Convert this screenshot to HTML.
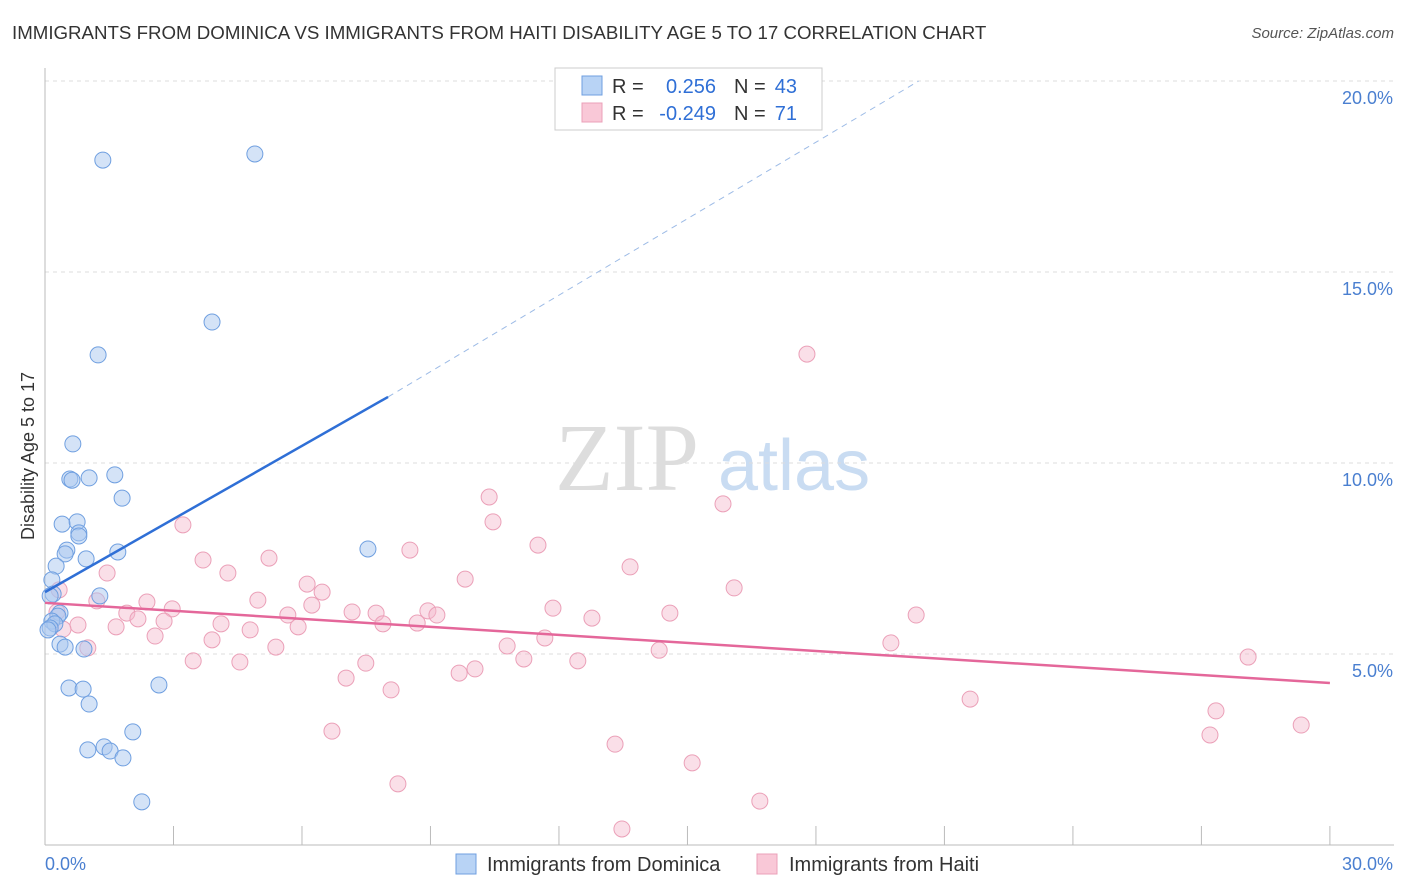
<!DOCTYPE html>
<html><head><meta charset="utf-8">
<style>
body{margin:0;background:#fff;font-family:"Liberation Sans",sans-serif;}
#wrap{position:relative;width:1406px;height:892px;overflow:hidden;}
.t{position:absolute;white-space:nowrap;}
</style></head>
<body>
<div id="wrap">
<div class="t" style="left:12px;top:22px;font-size:18.7px;color:#333;">IMMIGRANTS FROM DOMINICA VS IMMIGRANTS FROM HAITI DISABILITY AGE 5 TO 17 CORRELATION CHART</div>
<div class="t" style="right:12px;top:25px;font-size:15px;color:#555;font-style:italic;">Source: ZipAtlas.com</div>
<svg id="svg" width="1406" height="892" style="position:absolute;left:0;top:0"></svg>
</div>
<script>
const yTicks=[5,10,15,20];
const yTickLabels=["5.0%","10.0%","15.0%","20.0%"];
const xTickLabels=["0.0%","30.0%"];
const domX=[1.35,4.90,3.90,1.24,0.65,0.58,0.63,1.03,1.63,1.80,0.40,0.75,0.79,0.79,0.51,0.47,1.70,0.96,0.26,0.16,0.19,1.28,0.35,0.30,0.16,0.23,0.12,0.35,0.47,0.91,0.56,0.89,1.03,2.66,2.05,1.00,1.38,1.52,1.82,2.26,7.54,0.12,0.07];
const domY=[17.93,18.09,13.69,12.83,10.50,9.58,9.55,9.61,9.69,9.08,8.40,8.46,8.17,8.09,7.72,7.62,7.67,7.49,7.30,6.94,6.57,6.52,6.07,5.99,5.86,5.79,5.68,5.26,5.18,5.13,4.11,4.08,3.69,4.19,2.96,2.49,2.57,2.46,2.28,1.13,7.75,6.52,5.63];
const haiX=[17.79,3.22,10.37,10.46,15.83,11.51,8.52,5.23,3.69,1.45,4.27,9.81,13.66,16.09,6.12,6.47,0.33,1.21,2.38,2.97,4.97,6.23,7.17,7.73,8.94,9.15,11.86,12.77,14.59,20.34,1.91,2.17,2.78,5.67,5.91,7.89,8.69,4.11,1.66,0.77,4.79,2.57,0.42,1.00,5.39,10.79,11.67,19.75,14.34,3.90,3.46,4.55,7.49,11.18,12.44,28.09,10.04,9.67,7.03,8.08,21.60,27.34,29.33,27.20,6.70,13.31,15.11,8.24,16.69,13.47,0.28];
const haiY=[12.85,8.38,9.11,8.46,8.93,7.85,7.72,7.51,7.46,7.12,7.12,6.96,7.28,6.73,6.83,6.62,6.68,6.39,6.36,6.18,6.41,6.28,6.10,6.07,6.13,6.02,6.20,5.94,6.07,6.02,6.07,5.92,5.86,6.02,5.71,5.79,5.81,5.79,5.71,5.76,5.63,5.47,5.65,5.16,5.18,5.21,5.42,5.29,5.10,5.37,4.82,4.79,4.76,4.87,4.82,4.92,4.61,4.50,4.37,4.06,3.82,3.51,3.14,2.88,2.98,2.64,2.15,1.60,1.15,0.42,6.10];
const domLine=[[0,6.62],[8.01,11.73]];
const domDash=[[8.01,11.73],[20.4,20.0]];
const haiLine=[[0,6.34],[30,4.24]];

const X=v=>45+v*42.83, Y=v=>845-v*38.2;
const svg=document.getElementById('svg');
const NS='http://www.w3.org/2000/svg';
function mk(tag,attrs,parent){const e=document.createElementNS(NS,tag);for(const k in attrs)e.setAttribute(k,attrs[k]);(parent||svg).appendChild(e);return e;}

let wm=mk('text',{x:555,y:490,'font-size':96,fill:'#ddd','font-family':'Liberation Serif, serif'});wm.textContent='ZIP';

let wm2=mk('text',{x:718,y:490,'font-size':72,fill:'#c9dcf2','font-family':'Liberation Sans, sans-serif'});wm2.textContent='atlas';


yTicks.forEach((t,i)=>{
 const g=mk('line',{x1:45,x2:1394,y1:Y(t),y2:Y(t),stroke:'#ddd','stroke-dasharray':'4,4'});
 
 const l=mk('text',{x:1393,y:Y(t)+23,'text-anchor':'end','font-size':18,fill:'#4a7fd0'});l.textContent=yTickLabels[i];
 
});
mk('line',{x1:45,x2:45,y1:68,y2:845,stroke:'#bbb'});
const xa=mk('line',{x1:45,x2:1394,y1:845,y2:845,stroke:'#bbb'});

for(let i=0;i<=10;i++){const tk=mk('line',{x1:X(i*3),x2:X(i*3),y1:826,y2:845,stroke:'#bbb'});}
let xl=mk('text',{x:45,y:870,'font-size':18,fill:'#4a7fd0'});xl.textContent=xTickLabels[0];

let xr=mk('text',{x:1393,y:870,'text-anchor':'end','font-size':18,fill:'#4a7fd0'});xr.textContent=xTickLabels[1];

let yt=mk('text',{x:34,y:456,'font-size':18,fill:'#333','text-anchor':'middle',transform:'rotate(-90 34 456)'});yt.textContent='Disability Age 5 to 17';


haiX.forEach((v,i)=>{const c=mk('circle',{cx:X(v),cy:Y(haiY[i]),r:8,fill:'rgba(245,184,203,0.45)',stroke:'#eba0b8','stroke-width':1});
 });
domX.forEach((v,i)=>{const c=mk('circle',{cx:X(v),cy:Y(domY[i]),r:8,fill:'rgba(169,200,240,0.5)',stroke:'#6f9fe0','stroke-width':1});
 });

let l1=mk('line',{x1:X(domLine[0][0]),y1:Y(domLine[0][1]),x2:X(domLine[1][0]),y2:Y(domLine[1][1]),stroke:'#2f6fd6','stroke-width':2.5});

let l2=mk('line',{x1:X(domDash[0][0]),y1:Y(domDash[0][1]),x2:X(domDash[1][0]),y2:Y(domDash[1][1]),stroke:'#9dbbe6','stroke-width':1,'stroke-dasharray':'6,5'});

let l3=mk('line',{x1:X(haiLine[0][0]),y1:Y(haiLine[0][1]),x2:X(haiLine[1][0]),y2:Y(haiLine[1][1]),stroke:'#e4679a','stroke-width':2.5});


let lb=mk('rect',{x:555,y:68,width:267,height:62,fill:'#fff',stroke:'#ccc'});

mk('rect',{x:582,y:76,width:20,height:19,fill:'#b8d3f5',stroke:'#6f9fe0'});
mk('rect',{x:582,y:103,width:20,height:19,fill:'#f9c8d7',stroke:'#eba0b8'});
function tx(x,y,s,c,n,anchor){const e=mk('text',{x:x,y:y,'font-size':20,fill:c,'text-anchor':anchor||'start'});e.textContent=s;}
tx(612,93,'R =','#333','r-label');tx(716,93,'0.256','#2f6fd6','r-value-dominica','end');
tx(734,93,'N =','#333','n-label');tx(797,93,'43','#2f6fd6','n-value-dominica','end');
tx(612,120,'R =','#333','r-label');tx(716,120,'-0.249','#2f6fd6','r-value-haiti','end');
tx(734,120,'N =','#333','n-label');tx(797,120,'71','#2f6fd6','n-value-haiti','end');

let b1=mk('rect',{x:456,y:854,width:20,height:20,fill:'#b8d3f5',stroke:'#6f9fe0'});

tx(487,871,'Immigrants from Dominica','#333','legend-entry-dominica');
let b2=mk('rect',{x:757,y:854,width:20,height:20,fill:'#f9c8d7',stroke:'#eba0b8'});

tx(789,871,'Immigrants from Haiti','#333','legend-entry-haiti');
</script>
</body></html>
